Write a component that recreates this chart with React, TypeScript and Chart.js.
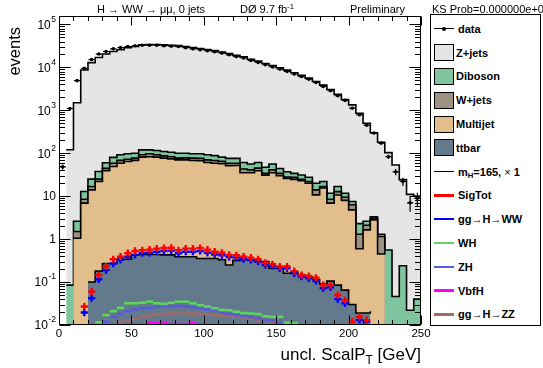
import React, { useEffect, useRef } from "react";
import { Chart, registerables } from "chart.js";

Chart.register(...registerables);

// ---- bins (GeV) ----
const binEdges = [0, 5, 10, 15, 20, 25, 30, 35, 40, 45, 50, 55, 60, 65, 70, 75, 80, 85, 90, 95, 100, 105, 110, 115, 120, 125, 130, 135, 140, 145, 150, 155, 160, 165, 170, 175, 180, 185, 190, 195, 200, 205, 210, 215, 220, 225, 230, 235, 240, 245, 250];

// ---- observed data ----
const dataCounts = [48, 1100, 4900, 9500, 15200, 20400, 23400, 27000, 28800, 30500, 31800, 32600, 32600, 32600, 31800, 31000, 30500, 28800, 27000, 25700, 24400, 23000, 21500, 19600, 17800, 16500, 14500, 13000, 11500, 10200, 9100, 8000, 7000, 6100, 5300, 4450, 3600, 2850, 2180, 1700, 1120, 785, 450, 295, 172, 83, 37, 22, 7, 9];

// ---- stacked backgrounds (bottom to top) ----
const ttbar = [0, 0, 0, 0, 0.10, 0.18, 0.27, 0.27, 0.34, 0.34, 0.43, 0.44, 0.44, 0.44, 0.43, 0.43, 0.39, 0.39, 0.39, 0.355, 0.355, 0.355, 0.33, 0.25, 0.32, 0.33, 0.33, 0.30, 0.30, 0.21, 0.21, 0.16, 0.17, 0.146, 0.13, 0.115, 0.09, 0.105, 0.085, 0.065, 0.03, 0.019, 0.019, 0.021, 0, 0, 0, 0, 0, 0];
const multijet = [0, 0, 1.05, 6.9, 13.9, 21.7, 39.1, 48.7, 58.2, 63.7, 67.6, 80.6, 82.6, 80.6, 76.6, 73.6, 69.6, 69.6, 67.6, 66.6, 60.6, 58.1, 56.7, 51.3, 51.3, 34.7, 34.7, 38.7, 30.7, 34.8, 29.8, 25.8, 24.4, 22.9, 19.9, 10.6, 15.4, 6.8, 10.6, 7.9, 4.77, 0.58, 1.62, 2.78, 0.45, 0.54, 0, 0.23, 0, 0];
const wjets = [0, 0, 0.45, 1.6, 2.8, 3.1, 5.3, 9.5, 9.5, 8.6, 9, 11, 14, 11, 10, 9, 7, 8, 9, 9, 9, 9.3, 7.5, 6.9, 6.9, 8, 6, 6, 3, 6, 4, 2, 2.9, 1.6, 2, 3.3, 1.3, 1.6, 2.1, 1.5, 1.5, 0.7, 0.46, 0.2, 0.7, 0.01, 0, 0, 0, 0];
const diboson = [0, 0.085, 1.1, 4.3, 8.1, 12.5, 15.3, 21.5, 24, 24.4, 23, 28, 23, 24, 23, 22, 23, 22, 20, 21, 22, 20.2, 16.5, 17.5, 17.5, 18, 15, 16, 13, 15, 10, 9, 6.5, 6.4, 5.6, 6, 5.2, 3.2, 4, 2.2, 1.2, 1.0, 0.5, 0.3, 0.15, 0.01, 0.046, 0.01, 0.022, 0.04];
const zjets = [0, 120, 1497, 8687, 12875, 16960, 20340, 23320, 25610, 28700, 30400, 33380, 33880, 33880, 33390, 32700, 31900, 30400, 28900, 27400, 25910, 24410, 22720, 20920, 18920, 17440, 15440, 13940, 12250, 10940, 9760, 8560, 7470, 6470, 5570, 4680, 3830, 3040, 2330, 1770, 1330, 848, 497, 297, 179, 103, 53, 24, 11, 10];

// ---- signal (mH = 165) ----
const sigTot = [null, null, null, 0.027, 0.06, 0.146, 0.23, 0.34, 0.39, 0.47, 0.53, 0.55, 0.57, 0.60, 0.62, 0.63, 0.55, 0.60, 0.60, 0.62, 0.57, 0.51, 0.48, 0.43, 0.42, 0.39, 0.37, 0.34, 0.28, 0.26, 0.23, 0.23, 0.18, 0.146, 0.138, 0.126, 0.085, 0.085, 0.05, 0.038, 0.012, 0.0155, 0.013, null, null, null, null, null, null, null];
const ggWW = [null, null, null, 0.0195, 0.042, 0.116, 0.19, 0.27, 0.33, 0.39, 0.43, 0.47, 0.48, 0.51, 0.53, 0.54, 0.47, 0.51, 0.51, 0.53, 0.48, 0.44, 0.42, 0.38, 0.37, 0.34, 0.327, 0.30, 0.25, 0.237, 0.209, 0.209, 0.16, 0.134, 0.122, 0.106, 0.072, 0.075, 0.04, 0.032, null, 0.013, 0.012, null, null, null, null, null, null, null];
const wh = [null, null, null, null, null, 0.0115, 0.017, 0.021, 0.025, 0.032, 0.032, 0.033, 0.035, 0.032, 0.031, 0.033, 0.035, 0.035, 0.032, 0.029, 0.027, 0.0245, 0.0224, 0.022, 0.0204, 0.019, 0.0185, 0.018, 0.016, 0.0155, 0.0155, 0.0113, 0.011, null, null, null, null, null, null, null, null, null, null, null, null, null, null, null, null, null];
const zh = [null, null, null, null, null, 0.0105, 0.012, 0.0155, 0.018, 0.021, 0.023, 0.0245, 0.025, 0.027, 0.027, 0.027, 0.028, 0.027, 0.026, 0.0245, 0.023, 0.022, 0.0194, 0.018, 0.0171, 0.016, 0.0155, 0.0143, 0.0131, 0.0127, 0.0113, 0.0105, null, null, null, null, null, null, null, null, null, null, null, null, null, null, null, null, null, null];
const vbfH = [null, null, null, null, null, null, null, null, null, 0.0102, 0.0102, null, 0.0115, 0.011, 0.0115, 0.0105, 0.0105, 0.0105, 0.011, 0.0102, null, null, null, null, null, null, null, null, null, null, null, null, null, null, null, null, null, null, null, null, null, null, null, null, null, null, null, null, null, null];
const ggZZ = [null, null, null, null, null, null, null, null, 0.011, 0.0125, 0.014, 0.0155, 0.0165, 0.0175, 0.018, 0.0185, 0.019, 0.019, 0.0185, 0.018, 0.0175, 0.017, 0.0165, 0.016, 0.0155, 0.015, 0.014, 0.0135, 0.013, 0.012, 0.0115, 0.011, 0.0105, null, null, null, null, null, null, null, null, null, null, null, null, null, null, null, null, null];

// ---- axes ----
const xTickValues = [0, 50, 100, 150, 200, 250];
const xMinorTicks = [10, 20, 30, 40, 60, 70, 80, 90, 110, 120, 130, 140, 160, 170, 180, 190, 210, 220, 230, 240];
const yDecades = [0.01, 0.1, 1, 10, 100, 1000, 10000, 100000];
const yDecadeLabels: [string, string][] = [["10", "-2"], ["10", "-1"], ["1", ""], ["10", ""], ["10", "2"], ["10", "3"], ["10", "4"], ["10", "5"]];
const yMinorMultipliers = [2, 3, 4, 5, 6, 7, 8, 9];

const COLORS = {
  zjets: "#e5e5e5",
  diboson: "#7dc49f",
  wjets: "#9d9182",
  multijet: "#e2be8c",
  ttbar: "#63798c",
  sig: "#ff0000",
  ggWW: "#0000ff",
  wh: "#5cd65c",
  zh: "#5a5adc",
  vbf: "#ff00ff",
  zz: "#a06a6a",
};

const FONT = '"Liberation Sans", Arial, Helvetica, sans-serif';

function stepPoints(vals: number[]) {
  return binEdges.map((x, i) => ({ x, y: vals[Math.min(i, vals.length - 1)] }));
}
function centerPoints(vals: (number | null)[]) {
  const out: { x: number; y: number }[] = [];
  vals.forEach((v, i) => {
    if (v !== null && v !== undefined) out.push({ x: (binEdges[i] + binEdges[i + 1]) / 2, y: v });
  });
  return out;
}

const histDs = (label: string, vals: number[], color: string) => ({
  label,
  data: stepPoints(vals),
  stepped: true,
  fill: "origin",
  backgroundColor: color,
  borderColor: "#000",
  borderWidth: 1.6,
  pointRadius: 0,
  stack: "bkg",
});

const markerDs = (label: string, vals: (number | null)[], color: string, style: string, radius: number, width: number) => ({
  label,
  data: centerPoints(vals),
  showLine: false,
  pointStyle: style,
  pointRadius: radius,
  pointBorderWidth: width,
  borderColor: color,
  backgroundColor: color,
  stack: "s_" + label,
});

const errorBarPlugin = {
  id: "dataErrors",
  afterDatasetsDraw(chart: any) {
    const { ctx, scales } = chart;
    const xs = scales.x;
    const ys = scales.y;
    ctx.save();
    ctx.beginPath();
    ctx.rect(chart.chartArea.left, chart.chartArea.top, chart.chartArea.right - chart.chartArea.left, chart.chartArea.bottom - chart.chartArea.top);
    ctx.clip();
    ctx.strokeStyle = "#000";
    ctx.lineWidth = 1.2;
    dataCounts.forEach((n, i) => {
      if (!(n > 0)) return;
      const yc = ys.getPixelForValue(n);
      const x0 = xs.getPixelForValue(binEdges[i]);
      const x1 = xs.getPixelForValue(binEdges[i + 1]);
      const xc = (x0 + x1) / 2;
      const e = Math.sqrt(n);
      const yHi = ys.getPixelForValue(n + e);
      const yLo = n - e > ys.min ? ys.getPixelForValue(n - e) : chart.chartArea.bottom;
      ctx.beginPath();
      ctx.moveTo(x0 + 0.5, yc);
      ctx.lineTo(x1 - 0.5, yc);
      ctx.moveTo(xc, yHi);
      ctx.lineTo(xc, yLo);
      ctx.stroke();
    });
    ctx.restore();
  },
};

const framePlugin = {
  id: "rootFrame",
  afterDraw(chart: any) {
    const { ctx, chartArea: a, scales } = chart;
    const xs = scales.x;
    const ys = scales.y;
    ctx.save();
    ctx.strokeStyle = "#000";
    ctx.lineWidth = 1;
    const L = Math.round(a.left) + 0.5;
    const R = Math.round(a.right) - 0.5;
    const T = Math.round(a.top) + 0.5;
    const B = Math.round(a.bottom) - 0.5;
    ctx.strokeRect(L, T, R - L, B - T);
    ctx.beginPath();
    // x ticks (bottom & top, inside)
    const xt = (v: number, len: number) => {
      const px = Math.round(xs.getPixelForValue(v)) + 0.5;
      ctx.moveTo(px, B);
      ctx.lineTo(px, B - len);
      ctx.moveTo(px, T);
      ctx.lineTo(px, T + len);
    };
    xTickValues.forEach((v) => xt(v, 9));
    xMinorTicks.forEach((v) => xt(v, 4.5));
    // y ticks (left & right, inside)
    const yt = (v: number, len: number) => {
      if (v < ys.min || v > ys.max) return;
      const py = Math.round(ys.getPixelForValue(v)) + 0.5;
      ctx.moveTo(L, py);
      ctx.lineTo(L + len, py);
      ctx.moveTo(R, py);
      ctx.lineTo(R - len, py);
    };
    yDecades.forEach((d) => {
      yt(d, 11);
      yMinorMultipliers.forEach((m) => yt(d * m, 5.5));
    });
    ctx.stroke();

    // labels
    ctx.fillStyle = "#000";
    ctx.font = `11.5px ${FONT}`;
    ctx.textAlign = "center";
    ctx.textBaseline = "middle";
    xTickValues.forEach((v) => {
      ctx.fillText(String(v), xs.getPixelForValue(v), a.bottom + 9);
    });
    yDecades.forEach((d, i) => {
      const [base, exp] = yDecadeLabels[i];
      const py = ys.getPixelForValue(d);
      const right = a.left - 3;
      ctx.font = `8.5px ${FONT}`;
      const ew = exp ? ctx.measureText(exp).width : 0;
      ctx.textAlign = "right";
      if (exp) {
        ctx.fillText(exp, right, py - 5);
      }
      ctx.font = `12px ${FONT}`;
      ctx.fillText(base, right - ew - (exp ? 0.5 : 0), py + 1);
    });
    ctx.restore();
  },
};

type LegendEntry = { label: React.ReactNode; kind: "data" | "box" | "line"; color?: string; width?: number };
const legendEntries: LegendEntry[] = [
  { label: "data", kind: "data" },
  { label: "Z+jets", kind: "box", color: COLORS.zjets },
  { label: "Diboson", kind: "box", color: COLORS.diboson },
  { label: "W+jets", kind: "box", color: COLORS.wjets },
  { label: "Multijet", kind: "box", color: COLORS.multijet },
  { label: "ttbar", kind: "box", color: COLORS.ttbar },
  {
    label: (
      <>
        m<sub style={{ fontSize: "70%", verticalAlign: "-0.3em", lineHeight: 0 }}>H</sub>=165, <span style={{ fontWeight: "normal" }}>×</span> 1
      </>
    ),
    kind: "line",
    color: "#000",
    width: 1,
  },
  { label: "SigTot", kind: "line", color: COLORS.sig, width: 2.5 },
  { label: "gg→H→WW", kind: "line", color: COLORS.ggWW, width: 2.5 },
  { label: "WH", kind: "line", color: COLORS.wh, width: 2.5 },
  { label: "ZH", kind: "line", color: COLORS.zh, width: 2.5 },
  { label: "VbfH", kind: "line", color: COLORS.vbf, width: 2.5 },
  { label: "gg→H→ZZ", kind: "line", color: COLORS.zz, width: 2.5 },
];

export default function App() {
  const ref = useRef<HTMLCanvasElement>(null);

  useEffect(() => {
    const canvas = ref.current;
    if (!canvas) return;
    const chart = new Chart(canvas, {
      type: "line",
      data: {
        datasets: [
          {
            label: "data",
            data: centerPoints(dataCounts),
            showLine: false,
            pointStyle: "circle",
            pointRadius: 1.8,
            pointBorderWidth: 0,
            backgroundColor: "#000",
            borderColor: "#000",
            stack: "data",
          },
          markerDs("SigTot", sigTot, COLORS.sig, "cross", 3.6, 2.4),
          markerDs("ggWW", ggWW, COLORS.ggWW, "cross", 3.6, 2.4),
          markerDs("WH", wh, COLORS.wh, "line", 3.6, 2.6),
          markerDs("ZH", zh, COLORS.zh, "line", 3.6, 2.6),
          markerDs("VbfH", vbfH, COLORS.vbf, "line", 3.6, 2.6),
          markerDs("ggZZ", ggZZ, COLORS.zz, "line", 3.6, 2.6),
          histDs("ttbar", ttbar, COLORS.ttbar),
          histDs("Multijet", multijet, COLORS.multijet),
          histDs("W+jets", wjets, COLORS.wjets),
          histDs("Diboson", diboson, COLORS.diboson),
          histDs("Z+jets", zjets, COLORS.zjets),
        ] as any,
      },
      options: {
        animation: false,
        responsive: false,
        devicePixelRatio: 1,
        parsing: true as any,
        layout: { padding: { left: 59, top: 16, right: 122, bottom: 43 } },
        plugins: { legend: { display: false }, tooltip: { enabled: false }, title: { display: false } },
        scales: {
          x: { type: "linear", min: 0, max: 250, display: false },
          y: { type: "logarithmic", min: 0.01, max: 157000, display: false, stacked: true },
        },
      } as any,
      plugins: [errorBarPlugin, framePlugin],
    });
    return () => chart.destroy();
  }, []);

  const txt: React.CSSProperties = { position: "absolute", whiteSpace: "nowrap", fontSize: 11, lineHeight: "14px" };

  return (
    <div
      style={{
        position: "fixed",
        left: 0,
        top: 0,
        width: 543,
        height: 368,
        overflow: "hidden",
        background: "#fff",
        color: "#000",
        fontFamily: FONT,
      }}
    >
      <canvas ref={ref} width={543} height={368} style={{ position: "absolute", left: 0, top: 0, width: 543, height: 368 }} />

      {/* header */}
      <div style={{ ...txt, left: 97, top: 2 }}>H → WW → μμ, 0 jets</div>
      <div style={{ ...txt, left: 240, top: 2 }}>
        DØ 9.7 fb<sup style={{ fontSize: "70%", verticalAlign: "0.5em", lineHeight: 0 }}>-1</sup>
      </div>
      <div style={{ ...txt, left: 350, top: 2 }}>Preliminary</div>
      <div style={{ ...txt, left: 432, top: 2 }}>KS Prob=0.000000e+00</div>

      {/* axis titles */}
      <div
        style={{
          position: "absolute",
          left: -36,
          top: 67,
          width: 100,
          height: 20,
          lineHeight: "20px",
          fontSize: 16.5,
          textAlign: "right",
          transform: "rotate(-90deg)",
          whiteSpace: "nowrap",
        }}
      >
        events
      </div>
      <div
        style={{
          position: "absolute",
          left: 200,
          width: 221,
          top: 344,
          height: 22,
          lineHeight: "22px",
          fontSize: 17,
          textAlign: "right",
          whiteSpace: "nowrap",
        }}
      >
        uncl. ScalP<sub style={{ fontSize: "70%", verticalAlign: "-0.3em", lineHeight: 0 }}>T</sub> [GeV]
      </div>

      {/* legend */}
      <div
        style={{
          position: "absolute",
          left: 430,
          top: 14,
          width: 109,
          height: 310,
          border: "1px solid #000",
          background: "#fff",
        }}
      >
        {legendEntries.map((e, i) => {
          const cy = 13.8 + 23.8 * i;
          return (
            <React.Fragment key={i}>
              {e.kind === "box" && (
                <div
                  style={{
                    position: "absolute",
                    left: 3,
                    top: cy - 8.5,
                    width: 18,
                    height: 15,
                    background: e.color,
                    border: "1px solid #000",
                  }}
                />
              )}
              {e.kind === "line" && (
                <div
                  style={{
                    position: "absolute",
                    left: 3,
                    top: cy - (e.width || 1) / 2,
                    width: 20,
                    height: e.width,
                    background: e.color,
                  }}
                />
              )}
              {e.kind === "data" && (
                <>
                  <div style={{ position: "absolute", left: 3, top: cy - 0.5, width: 20, height: 1, background: "#000" }} />
                  <div
                    style={{
                      position: "absolute",
                      left: 11,
                      top: cy - 2,
                      width: 4,
                      height: 4,
                      borderRadius: 2,
                      background: "#000",
                    }}
                  />
                </>
              )}
              <div
                style={{
                  position: "absolute",
                  left: e.kind === "box" ? 25 : 27,
                  top: cy - 8,
                  height: 16,
                  lineHeight: "16px",
                  fontSize: 11,
                  fontWeight: "bold",
                  whiteSpace: "nowrap",
                }}
              >
                {e.label}
              </div>
            </React.Fragment>
          );
        })}
      </div>
    </div>
  );
}
